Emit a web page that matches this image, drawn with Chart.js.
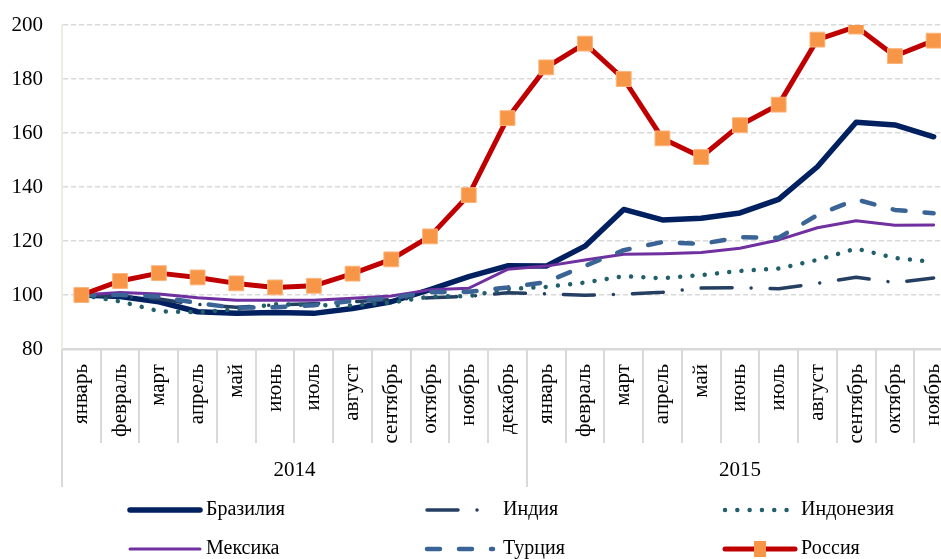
<!DOCTYPE html>
<html>
<head>
<meta charset="utf-8">
<script src="https://cdn.jsdelivr.net/npm/chart.js@4.4.1/dist/chart.umd.min.js"></script>
<style>
  html, body { margin: 0; padding: 0; background: #ffffff; overflow: hidden; }
  #wrap { width: 968px; height: 559px; }
  canvas { display: block; }
</style>
</head>
<body>
<div id="wrap"><canvas id="c" width="968" height="559"></canvas></div>
<script>
// ---- data ----
const months = ['январь','февраль','март','апрель','май','июнь','июль','август','сентябрь','октябрь','ноябрь','декабрь',
                'январь','февраль','март','апрель','май','июнь','июль','август','сентябрь','октябрь','ноябрь'];
const yearLabels = ['2014', '2015'];
const monthsPerYear = [12, 11];
const yTicks = [80, 100, 120, 140, 160, 180, 200];

const seriesNames = ['Бразилия', 'Индия', 'Индонезия', 'Мексика', 'Турция', 'Россия'];
const brazil    = [100, 99.4, 97.5, 93.8, 93.2, 93.5, 93.2, 95.0, 97.5, 102.0, 106.8, 110.8, 110.7, 118.1, 131.7, 127.8, 128.4, 130.4, 135.4, 147.5, 164.0, 163.0, 158.6];
const india     = [100, 99.5, 98.5, 96.5, 95.5, 96.3, 96.8, 97.5, 98.3, 99.0, 99.5, 100.8, 100.4, 99.9, 100.3, 101.0, 102.6, 102.7, 102.3, 104.3, 106.6, 104.6, 106.3];
const indonesia = [100, 97.6, 94.0, 93.6, 94.7, 96.6, 96.3, 96.1, 97.2, 99.4, 99.6, 102.2, 103.0, 104.6, 107.0, 106.2, 107.4, 108.9, 109.8, 113.0, 117.2, 113.7, 112.2];
const mexico    = [100, 100.9, 100.4, 99.0, 98.1, 98.1, 98.1, 98.8, 99.6, 101.9, 102.5, 109.5, 110.7, 113.0, 115.1, 115.3, 115.7, 117.3, 120.4, 124.9, 127.5, 125.8, 125.9];
const turkey    = [100, 100.0, 99.4, 97.0, 95.2, 95.5, 96.2, 97.8, 98.8, 101.1, 101.2, 102.8, 104.8, 110.8, 116.6, 119.6, 118.9, 121.4, 121.2, 129.6, 135.4, 131.5, 130.3];
const russia    = [100, 105.2, 108.1, 106.5, 104.3, 102.8, 103.4, 107.9, 113.2, 121.7, 137.0, 165.5, 184.3, 193.1, 180.0, 158.0, 151.1, 162.9, 170.5, 194.6, 199.4, 188.5, 194.2];

const SERIF = '"Liberation Serif", "Times New Roman", serif';

const styles = [
  { color: '#002060', width: 5.5, dash: [], cap: 'round', legendLen: 72 },
  { color: '#253F62', width: 3.5, dash: [31, 19, 0.01, 19], cap: 'round', legendLen: 55 },
  { color: '#215F6A', width: 4.5, dash: [0.01, 12.3], cap: 'round', legendLen: 70 },
  { color: '#7030A0', width: 3, dash: [], cap: 'round', legendLen: 72 },
  { color: '#3A6496', width: 4.5, dash: [13, 19], cap: 'round', legendLen: 68 },
  { color: '#C00000', width: 5, dash: [], cap: 'round', legendLen: 72 }
];
const values = [brazil, india, indonesia, mexico, turkey, russia];

const datasets = values.map((v, i) => ({
  label: seriesNames[i],
  data: v,
  borderColor: styles[i].color,
  backgroundColor: styles[i].color,
  borderWidth: styles[i].width,
  borderDash: styles[i].dash,
  borderCapStyle: styles[i].cap,
  borderJoinStyle: 'round',
  tension: 0,
  fill: false,
  order: 5 - i,
  pointRadius: i === 5 ? 10.5 : 0,
  pointHoverRadius: i === 5 ? 10.5 : 0,
  pointStyle: 'rect',
  pointBackgroundColor: '#F79646',
  pointBorderColor: '#FBB57C',
  pointBorderWidth: 1
}));

const extras = {
  id: 'extras',
  afterDraw(chart) {
    const ctx = chart.ctx;
    const xs = chart.scales.x;
    const area = chart.chartArea;
    const step = xs.getPixelForValue(1) - xs.getPixelForValue(0);
    const n = months.length;
    const groupIdx = [0];
    monthsPerYear.forEach(c => groupIdx.push(groupIdx[groupIdx.length - 1] + c));
    ctx.save();
    ctx.strokeStyle = '#D9D9D9';
    ctx.lineWidth = 2;
    for (let k = 0; k <= n; k++) {
      const bx = Math.round(xs.getPixelForValue(0) - step / 2 + k * step);
      const isGroup = groupIdx.includes(k);
      ctx.beginPath();
      ctx.moveTo(bx, area.bottom);
      ctx.lineTo(bx, area.bottom + (isGroup ? 138 : 94));
      ctx.stroke();
    }
    ctx.fillStyle = '#000';
    ctx.font = '21px ' + SERIF;
    ctx.textAlign = 'center';
    ctx.textBaseline = 'middle';
    yearLabels.forEach((y, j) => {
      const a = xs.getPixelForValue(0) - step / 2 + groupIdx[j] * step;
      const b = xs.getPixelForValue(0) - step / 2 + groupIdx[j + 1] * step;
      ctx.fillText(y, (a + b) / 2, area.bottom + 121);
    });
    const colX = [128, 425, 723];
    const rowY = [510, 549];
    ctx.font = '20px ' + SERIF;
    ctx.textAlign = 'left';
    chart.data.datasets.forEach((ds, i) => {
      const cx = colX[i % 3];
      const cy = rowY[Math.floor(i / 3)];
      ctx.save();
      ctx.strokeStyle = ds.borderColor;
      ctx.lineWidth = ds.borderWidth;
      ctx.lineCap = ds.borderCapStyle;
      ctx.setLineDash(ds.borderDash);
      ctx.beginPath();
      ctx.moveTo(cx + 2, cy);
      ctx.lineTo(cx + styles[i].legendLen, cy);
      ctx.stroke();
      ctx.restore();
      if (ds.pointRadius > 0) {
        ctx.save();
        ctx.fillStyle = ds.pointBackgroundColor;
        ctx.fillRect(cx + 31, cy - 8, 12, 16);
        ctx.restore();
      }
      ctx.fillStyle = '#000';
      ctx.fillText(ds.label, cx + 78, cy);
    });
    ctx.restore();
  }
};

new Chart(document.getElementById('c'), {
  type: 'line',
  data: { labels: months, datasets: datasets },
  options: {
    responsive: false,
    animation: false,
    devicePixelRatio: 1,
    layout: { padding: { top: 25, right: 15, bottom: 0, left: 0 } },
    plugins: { legend: { display: false }, tooltip: { enabled: false } },
    scales: {
      x: {
        type: 'category',
        offset: true,
        grid: { display: false, drawTicks: false },
        border: { display: true, color: '#D9D9D9', width: 2.5 },
        ticks: {
          autoSkip: false,
          maxRotation: 90,
          minRotation: 90,
          padding: 15,
          color: '#000',
          font: { family: SERIF, size: 21 }
        },
        afterFit(scale) {
          scale.height = 210;
          scale.paddingLeft = 0; scale.paddingRight = 0;
          scale.paddingTop = 0; scale.paddingBottom = 0;
        }
      },
      y: {
        min: 80,
        max: 200,
        afterBuildTicks(scale) { scale.ticks = yTicks.map(v => ({ value: v })); },
        grid: {
          color: (c) => (c.tick && c.tick.value === 80) ? 'rgba(0,0,0,0)' : '#D9D9D9',
          lineWidth: 1.5,
          drawTicks: false
        },
        border: { display: true, color: '#EEECE1', width: 2, dash: [5, 3] },
        ticks: {
          padding: 19,
          color: '#000',
          font: { family: SERIF, size: 21 }
        },
        afterFit(scale) {
          scale.width = 62;
          scale.paddingTop = 0; scale.paddingBottom = 0;
          scale.paddingLeft = 0; scale.paddingRight = 0;
        }
      }
    }
  },
  plugins: [extras]
});
</script>
</body>
</html>
